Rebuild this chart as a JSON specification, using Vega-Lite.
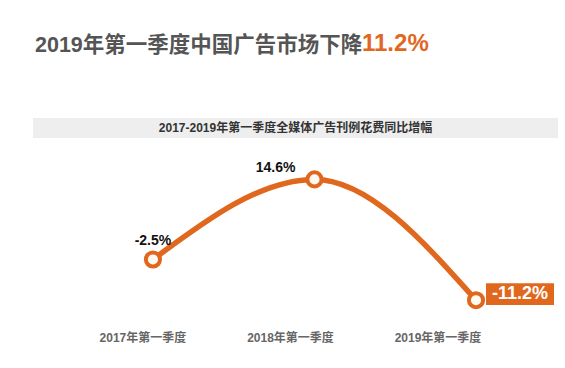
{
  "$schema": "https://vega.github.io/schema/vega-lite/v6.json",
  "padding": {"left": 33, "top": 32, "right": 7, "bottom": 0},
  "background": "white",
  "title": {"text": "2019年第一季度中国广告市场下降", "anchor": "start", "dx": 2, "offset": -24, "fontSize": 21.5, "font": "Liberation Sans, Noto Sans CJK SC", "fontWeight": "bold", "color": "#555555"},
  "config": {"view": {"stroke": null}, "font": "Liberation Sans, Noto Sans CJK SC"},
  "datasets": {
    "trend": [
      {"q": "2017年第一季度", "v": -2.5, "label": "-2.5%"},
      {"q": "2018年第一季度", "v": 14.6, "label": "14.6%"},
      {"q": "2019年第一季度", "v": -11.2, "label": "-11.2%"}
    ],
    "caption": [{"t": "2017-2019年第一季度全媒体广告刊例花费同比增幅"}]
  },
  "spacing": 10,
  "vconcat": [
    {
      "title": {"text": "11.2%", "anchor": "start", "dx": 329, "offset": 62, "fontSize": 24, "fontWeight": "bold", "color": "#e0681e", "font": "Liberation Sans"},
      "data": {"name": "caption"},
      "width": 525,
      "height": 20,
      "view": {"fill": "#eeeeee", "stroke": null},
      "mark": {"type": "text", "fontSize": 12, "fontWeight": "bold", "color": "#333333", "baseline": "middle"},
      "encoding": {"text": {"field": "t", "type": "nominal"}}
    },
    {
      "data": {"name": "trend"},
      "width": 525,
      "height": 170,
      "encoding": {
        "x": {"field": "q", "type": "ordinal", "sort": null,
              "scale": {"type": "point", "padding": 0.625, "align": 0.594},
              "axis": {"title": null, "domain": false, "ticks": false, "labelPadding": 14, "labelFontSize": 12, "labelFontWeight": "bold", "labelColor": "#666666", "labelAngle": 0, "labelOffset": {"expr": "-10.5 - 28*datum.index"}}},
        "y": {"field": "v", "type": "quantitative", "scale": {"domain": [-15, 21.3], "nice": false, "zero": false}, "axis": null}
      },
      "layer": [
        {"mark": {"type": "line", "color": "#e0681e", "strokeWidth": 5.5, "interpolate": "monotone", "strokeCap": "round"}},
        {"mark": {"type": "point", "filled": true, "fill": "#fff9f2", "stroke": "#e0681e", "strokeWidth": 4, "size": 200, "opacity": 1}},
        {"transform": [{"filter": "datum.q == '2017年第一季度'"}],
         "mark": {"type": "text", "dy": -18, "fontSize": 14, "fontWeight": "bold", "color": "#111111", "baseline": "middle"},
         "encoding": {"text": {"field": "label", "type": "nominal"}}},
        {"transform": [{"filter": "datum.q == '2018年第一季度'"}],
         "mark": {"type": "text", "align": "right", "dx": -19, "dy": -11, "fontSize": 14, "fontWeight": "bold", "color": "#111111", "baseline": "middle"},
         "encoding": {"text": {"field": "label", "type": "nominal"}}},
        {"transform": [{"filter": "datum.q == '2019年第一季度'"}],
         "mark": {"type": "point", "shape": "M-1,-0.32L1,-0.32L1,0.32L-1,0.32Z", "size": 4624, "filled": true, "color": "#e0681e", "opacity": 1, "xOffset": 44, "yOffset": -6}},
        {"transform": [{"filter": "datum.q == '2019年第一季度'"}],
         "mark": {"type": "text", "dx": 44, "dy": -6, "fontSize": 18, "fontWeight": "bold", "color": "#ffffff", "baseline": "middle"},
         "encoding": {"text": {"field": "label", "type": "nominal"}}}
      ]
    }
  ]
}
